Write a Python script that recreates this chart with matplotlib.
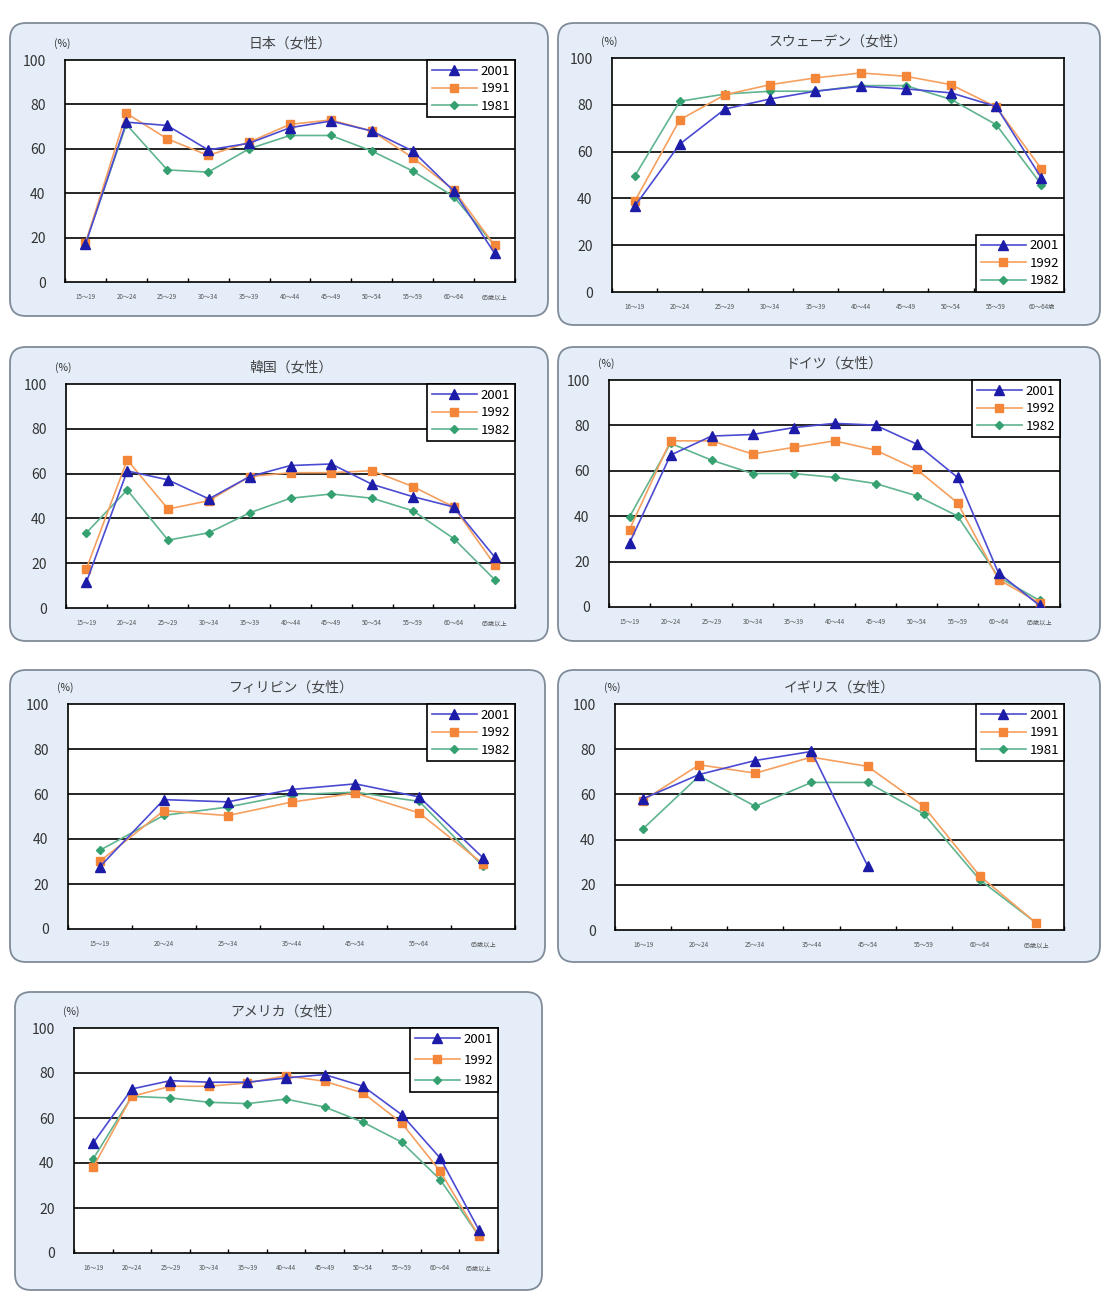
import numpy as np
import matplotlib
matplotlib.use('Agg')
from matplotlib import pyplot as plt
from matplotlib.patches import FancyBboxPatch

plt.rcParams['font.family'] = ['Noto Sans CJK JP', 'DejaVu Sans']

nan = np.nan

# age groups
ages_11 = ['15～19', '20～24', '25～29', '30～34', '35～39', '40～44', '45～49', '50～54', '55～59', '60～64', '65歳以上']
ages_11_us = ['16～19', '20～24', '25～29', '30～34', '35～39', '40～44', '45～49', '50～54', '55～59', '60～64', '65歳以上']
ages_se = ['16～19', '20～24', '25～29', '30～34', '35～39', '40～44', '45～49', '50～54', '55～59', '60～64歳']
ages_ph = ['15～19', '20～24', '25～34', '35～44', '45～54', '55～64', '65歳以上']
ages_uk = ['16～19', '20～24', '25～34', '35～44', '45～54', '55～59', '60～64', '65歳以上']

# female labour force participation rate (%)
jp_2001 = [17.0, 72.0, 70.5, 59.5, 62.5, 69.5, 72.5, 68.0, 59.0, 41.0, 13.0]
jp_1991 = [17.5, 76.0, 64.5, 57.0, 63.0, 71.0, 73.0, 68.0, 56.0, 41.5, 16.5]
jp_1981 = [17.5, 71.0, 50.5, 49.5, 60.0, 66.0, 66.0, 59.0, 50.0, 38.5, 16.5]

se_2001 = [36.6, 63.2, 78.2, 82.5, 85.8, 87.9, 86.8, 85.1, 79.3, 48.7]
se_1992 = [38.7, 73.6, 84.3, 88.6, 91.5, 93.6, 92.2, 88.6, 79.1, 52.6]
se_1982 = [49.4, 81.5, 84.6, 85.8, 85.8, 88.2, 88.2, 82.3, 71.5, 45.9]

kr_2001 = [11.6, 61.2, 57.2, 48.7, 58.7, 63.6, 64.3, 55.2, 49.7, 45.1, 22.8]
kr_1992 = [17.6, 66.1, 44.2, 47.9, 58.7, 60.4, 60.4, 61.3, 54.2, 45.1, 19.4]
kr_1982 = [33.6, 52.7, 30.3, 33.6, 42.5, 49.0, 50.9, 49.0, 43.4, 31.0, 12.7]

de_2001 = [28.2, 66.9, 75.3, 76.0, 79.0, 80.9, 80.1, 71.8, 57.1, 15.0, 0.7]
de_1992 = [34.1, 73.2, 73.2, 67.4, 70.3, 73.2, 69.1, 60.7, 45.9, 12.1, 1.8]
de_1982 = [39.7, 72.1, 64.7, 58.8, 58.8, 57.1, 54.4, 49.0, 40.1, 13.2, 2.9]

ph_2001 = [27.7, 57.5, 56.5, 62.0, 64.5, 58.7, 31.6]
ph_1992 = [30.1, 52.6, 50.4, 56.4, 60.4, 51.6, 28.9]
ph_1982 = [35.0, 50.5, 54.2, 59.7, 60.8, 56.7, 27.9]

uk_2001 = [58.1, 68.8, 75.0, 79.0, 28.4, nan, nan, nan]
uk_1991 = [57.3, 73.1, 69.4, 76.5, 72.4, 54.7, 23.9, 3.2]
uk_1981 = [44.8, 68.2, 54.7, 65.3, 65.3, 51.4, 22.2, 3.2]

us_2001 = [48.9, 72.9, 76.6, 75.9, 75.9, 77.8, 79.3, 74.1, 61.5, 42.2, 10.4]
us_1992 = [38.2, 69.6, 74.1, 74.1, 75.6, 78.8, 76.3, 71.1, 57.8, 36.3, 7.7]
us_1982 = [41.9, 69.6, 68.9, 67.0, 66.4, 68.4, 64.9, 58.1, 49.3, 32.6, 7.7]

W, H = 1107, 1304
fig = plt.figure(figsize=(W / 100, H / 100), dpi=100)
fig.patch.set_facecolor('white')

# background layer in pixel coordinates for the rounded panels
bg = fig.add_axes([0, 0, 1, 1])
bg.set_xlim(0, W)
bg.set_ylim(H, 0)
bg.axis('off')

blue_line, blue_mk = '#4b4bd2', '#1c1ca8'
orange_line, orange_mk = '#f6a060', '#f4863a'
green_line, green_mk = '#60b490', '#35a070'


def add_panel(box, ax_box, title, ages, s1, s2, s3, labels, legend_loc, spacing=0.35):
    x0, y0, x1, y1 = box
    bg.add_patch(FancyBboxPatch((x0, y0), x1 - x0, y1 - y0,
                                boxstyle='round,pad=0,rounding_size=16',
                                facecolor='#e4edf8', edgecolor='#7f8b99', linewidth=1.3))
    l, t, r, b = ax_box
    ax = fig.add_axes([l / W, 1 - b / H, (r - l) / W, (b - t) / H])
    ax.set_facecolor('white')
    x = np.arange(len(ages))
    ax.plot(x, s1, color=blue_line, lw=1.2, marker='^', ms=7,
            mfc=blue_mk, mec=blue_mk, label=labels[0], zorder=5)
    ax.plot(x, s2, color=orange_line, lw=1.2, marker='s', ms=6,
            mfc=orange_mk, mec=orange_mk, label=labels[1], zorder=4)
    ax.plot(x, s3, color=green_line, lw=1.2, marker='D', ms=4.5,
            mfc=green_mk, mec=green_mk, label=labels[2], zorder=3)
    ax.set_xlim(-0.5, len(ages) - 0.5)
    ax.set_ylim(0, 100)
    ax.set_yticks(range(0, 101, 20))
    for v in range(20, 100, 20):
        ax.axhline(v, color='black', lw=1.2, zorder=1)
    ax.tick_params(axis='y', length=0, pad=14, labelsize=10, labelcolor='#333333')
    ax.set_xticks(np.arange(len(ages) + 1) - 0.5)
    ax.set_xticklabels([])
    ax.tick_params(axis='x', which='major', length=3, width=1, direction='in')
    ax.set_xticks(x, minor=True)
    ax.set_xticklabels(ages, minor=True, fontsize=4.5, color='#555555')
    ax.tick_params(axis='x', which='minor', length=0, pad=8)
    for sp in ax.spines.values():
        sp.set_color('black')
        sp.set_linewidth(1.2)
    ax.text(0.5 * (l + r) / W, 1 - (t - 16) / H, title, transform=fig.transFigure,
            ha='center', va='center', fontsize=10, color='#444444')
    ax.text((l - 3) / W, 1 - (t - 16) / H, '(%)', transform=fig.transFigure,
            ha='center', va='center', fontsize=7.5, color='#333333')
    leg = ax.legend(loc=legend_loc, borderaxespad=0, fontsize=9.5, handlelength=3.4,
                    labelspacing=spacing, handletextpad=0.3, borderpad=0.35,
                    fancybox=False, framealpha=1)
    leg.get_frame().set_edgecolor('black')
    leg.get_frame().set_linewidth(1.2)
    return ax


add_panel((10, 23, 548, 316), (65, 60, 515, 282), '日本（女性）', ages_11,
          jp_2001, jp_1991, jp_1981, ['2001', '1991', '1981'], 'upper right')
add_panel((558, 23, 1100, 325), (612, 58, 1064, 292), 'スウェーデン（女性）', ages_se,
          se_2001, se_1992, se_1982, ['2001', '1992', '1982'], 'lower right')
add_panel((10, 347, 548, 641), (66, 384, 515, 608), '韓国（女性）', ages_11,
          kr_2001, kr_1992, kr_1982, ['2001', '1992', '1982'], 'upper right')
add_panel((558, 347, 1100, 641), (609, 380, 1060, 607), 'ドイツ（女性）', ages_11,
          de_2001, de_1992, de_1982, ['2001', '1992', '1982'], 'upper right')
add_panel((10, 670, 545, 962), (68, 704, 515, 929), 'フィリピン（女性）', ages_ph,
          ph_2001, ph_1992, ph_1982, ['2001', '1992', '1982'], 'upper right')
add_panel((558, 670, 1100, 962), (615, 704, 1064, 930), 'イギリス（女性）', ages_uk,
          uk_2001, uk_1991, uk_1981, ['2001', '1991', '1981'], 'upper right')
add_panel((15, 992, 542, 1290), (74, 1028, 498, 1253), 'アメリカ（女性）', ages_11_us,
          us_2001, us_1992, us_1982, ['2001', '1992', '1982'], 'upper right', spacing=0.6)

fig.savefig('out.png', dpi=100)
